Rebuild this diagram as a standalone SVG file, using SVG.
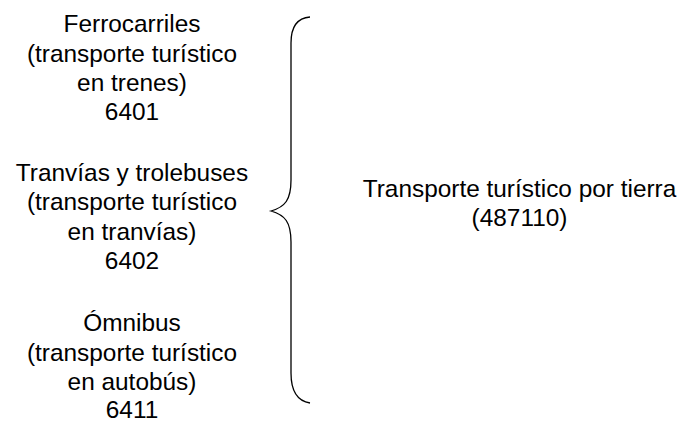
<svg xmlns="http://www.w3.org/2000/svg" width="684" height="422" viewBox="0 0 684 422">
<style>
text{font-family:"Liberation Sans",Arial,sans-serif;font-size:24.4px;fill:#000;text-anchor:middle}
.brace{fill:none;stroke:#000;stroke-width:1.3}
</style>
<rect width="684" height="422" fill="#fff"/>
<g id="n1">
<text x="132" y="32">Ferrocarriles</text>
<text x="132" y="62">(transporte turístico</text>
<text x="132" y="91">en trenes)</text>
<text x="132" y="120">6401</text>
</g>
<g id="n2">
<text x="132" y="181">Tranvías y trolebuses</text>
<text x="132" y="210">(transporte turístico</text>
<text x="132" y="240">en tranvías)</text>
<text x="132" y="269">6402</text>
</g>
<g id="n3">
<text x="132" y="331">Ómnibus</text>
<text x="132" y="361">(transporte turístico</text>
<text x="132" y="390">en autobús)</text>
<text x="132" y="418">6411</text>
</g>
<g id="n4">
<text x="519.5" y="197">Transporte turístico por tierra</text>
<text x="519.5" y="226">(487110)</text>
</g>
<g id="connectors">
<path class="brace" d="M310,17 C297,18 291,28 291,43 L291,180 C291,200 285,207 271,211 C285,215 291,222 291,242 L291,373 C291,390 297,401 310,403"/>
</g>
</svg>
